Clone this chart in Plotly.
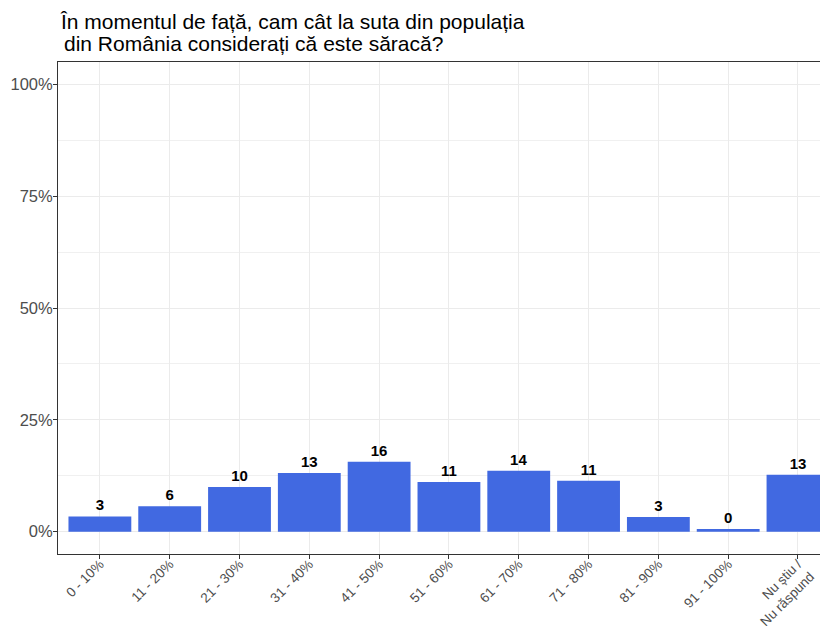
import plotly.graph_objects as go

# Datos del gráfico
categorii = ["0 - 10%", "11 - 20%", "21 - 30%", "31 - 40%", "41 - 50%",
             "51 - 60%", "61 - 70%", "71 - 80%", "81 - 90%", "91 - 100%",
             "Nu știu /<br>Nu răspund"]
procente = [3.4, 5.7, 10.0, 13.1, 15.6, 11.1, 13.6, 11.4, 3.3, 0.6, 12.7]
etichete = ["3", "6", "10", "13", "16", "11", "14", "11", "3", "0", "13"]
y_ticks = [0, 25, 50, 75, 100]
y_minor = [12.5, 37.5, 62.5, 87.5]

titlu_1 = "În momentul de față, cam cât la suta din populația"
titlu_2 = "din România considerați că este săracă?"

FONT = "Liberation Sans, Arial, Helvetica, sans-serif"
GRID = "#EBEBEB"

fig = go.Figure(go.Bar(
    x=list(range(len(categorii))),
    y=procente,
    width=0.9,
    marker=dict(color="#4169E1", line=dict(width=0)),
    text=etichete,
    textposition="outside",
    textfont=dict(family=FONT, size=15, color="black", weight="bold"),
    constraintext="none",
    cliponaxis=False,
))

# la pagina tiene un margen de 8px, por eso la figura es 820x618
fig.update_layout(
    width=820, height=618,
    margin=dict(l=50, r=0, t=54, b=72, autoexpand=False),
    paper_bgcolor="white", plot_bgcolor="white",
    showlegend=False,
    font=dict(family=FONT),
)

# Titlu (dos lineas, interlineado estrecho)
for txt, dy, dx in [(titlu_1, 40.1, 0), (titlu_2, 18.7, 4)]:
    fig.add_annotation(
        text=txt, showarrow=False, align="left",
        xref="paper", x=0, xanchor="left", xshift=dx,
        yref="paper", y=1, yanchor="middle", yshift=dy,
        font=dict(family=FONT, size=21, color="black"),
    )

fig.update_xaxes(
    range=[-0.6, 10.43],
    automargin=False,
    tickvals=list(range(len(categorii))),
    ticktext=categorii,
    tickangle=-45,
    tickfont=dict(size=13.5, color="#4D4D4D"),
    ticks="outside", ticklen=4, tickcolor="#333333", tickwidth=1,
    ticklabelstandoff=-8,
    showgrid=True, gridcolor=GRID, gridwidth=1,
    showline=True, linecolor="#333333", linewidth=1, mirror=True,
    zeroline=False,
)

fig.update_yaxes(
    range=[-5, 105],
    automargin=False,
    tickvals=y_ticks,
    ticktext=[f"{v}%" for v in y_ticks],
    tickfont=dict(size=16.5, color="#4D4D4D"),
    ticks="outside", ticklen=4, tickcolor="#333333", tickwidth=1,
    ticklabelstandoff=-3,
    showgrid=True, gridcolor=GRID, gridwidth=1,
    minor=dict(tickvals=y_minor, showgrid=True, gridcolor="#F0F0F0",
               gridwidth=0.6, ticks=""),
    showline=True, linecolor="#333333", linewidth=1,
    zeroline=False,
)

fig.write_html("out.html")
